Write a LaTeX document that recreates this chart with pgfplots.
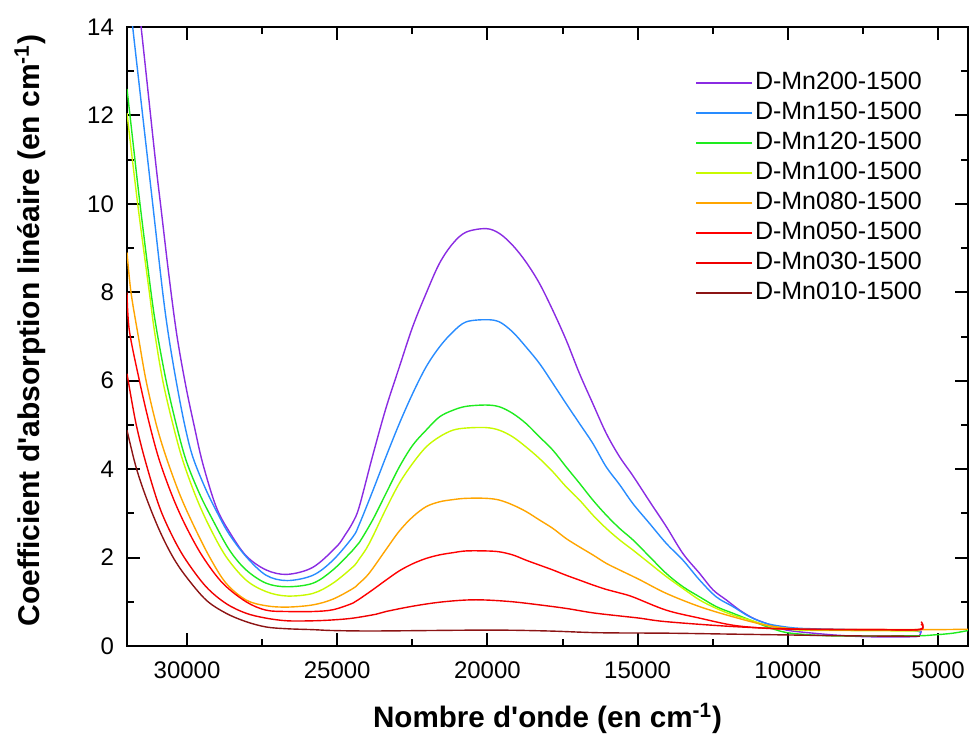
\documentclass[border=0pt]{standalone}
\usepackage{fontspec}
\setmainfont{Liberation Sans}
\newfontfamily\lsans{Liberation Sans}
\usepackage{pgfplots}
\pgfplotsset{compat=1.18}
\definecolor{c200}{RGB}{138,43,226}
\definecolor{c150}{RGB}{40,140,255}
\definecolor{c120}{RGB}{30,235,30}
\definecolor{c100}{RGB}{200,250,0}
\definecolor{c080}{RGB}{255,165,0}
\definecolor{c050}{RGB}{255,0,0}
\definecolor{c030}{RGB}{240,0,0}
\definecolor{c010}{RGB}{140,20,20}
\begin{document}
\begin{tikzpicture}
\begin{axis}[
  scale only axis,
  width=420.5pt, height=309.5pt,
  x dir=reverse,
  xmin=4000, xmax=32000, ymin=0, ymax=14,
  xtick={5000,10000,...,30000},
  ytick={0,2,...,14},
  minor x tick num=1, minor y tick num=1,
  scaled x ticks=false,
  /pgf/number format/1000 sep={},
  /pgf/number format/assume math mode=true,
  tick align=inside,
  major tick length=6.5pt, minor tick length=3.5pt,
  every tick/.style={line width=1pt, black},
  axis line style={line width=1.2pt},
  tick label style={font=\lsans\fontsize{12}{14}\selectfont},
  xticklabel style={yshift=-4.3pt},
  yticklabel style={xshift=-3pt},
  xlabel={Nombre d'onde (en cm\textsuperscript{-1})},
  ylabel={Coefficient d'absorption linéaire (en cm\textsuperscript{-1})},
  xlabel style={font=\lsans\bfseries\fontsize{14.8}{17}\selectfont, at={(axis description cs:0.5,-0.117)}, anchor=center},
  ylabel style={font=\lsans\bfseries\fontsize{15}{17}\selectfont, at={(axis description cs:-0.1153,0.51)}, anchor=center},
  legend style={draw=none, fill=none, at={(axis description cs:0.6754,0.933)}, anchor=north west,
    font=\lsans\fontsize{12.5}{15}\selectfont, inner sep=0pt, row sep=1pt,
    nodes={inner sep=1pt, text height=9.5pt, text depth=2.5pt}},
  legend image code/.code={\draw[#1, line width=0.8pt] (0pt,0pt) -- (28pt,0pt);},
  legend cell align=left,
  clip=true,
  every axis plot/.append style={line width=0.7pt, smooth, tension=0.55},
]
\addplot[c200] coordinates {
(32000,17.2) (31800,15.6) (31530,14) (31056,11.0) (30867,9.9) (30589,8.3) (30333,7.0) (30033,5.85)
(29756,4.96) (29478,4.13) (29033,3.15) (28589,2.58) (28033,2.04) (27367,1.72) (26667,1.62)
(25811,1.78) (25033,2.24) (24750,2.50) (24478,2.80) (24267,3.15) (23822,4.30) (23378,5.38) (22933,6.31)
(22489,7.22) (22044,7.97) (21600,8.65) (21156,9.10) (20711,9.36) (20044,9.44) (19600,9.33)
(19156,9.06) (18711,8.68) (18267,8.20) (17822,7.59) (17378,6.92) (16933,6.16) (16489,5.48)
(16044,4.81) (15600,4.28) (15156,3.85) (14600,3.27) (14044,2.70) (13489,2.09) (12933,1.64)
(12489,1.27) (12044,1.04) (11600,0.81) (11156,0.63) (10711,0.51) (10044,0.36) (9000,0.28)
(8489,0.25) (7378,0.21) (5822,0.21) (5600,0.25) (5560,0.35)
};
\addlegendentry{D-Mn200-1500}
\addplot[c150] coordinates {
(32000,15.2) (31810,14) (31478,12) (31144,10) (30811,8) (30611,7) (30367,6.01) (30089,5.03)
(29811,4.28) (29367,3.53) (28922,2.92) (28589,2.52) (28033,2.02) (27367,1.60) (26667,1.48)
(25811,1.60) (25144,1.94) (24478,2.47) (24267,2.75) (23822,3.50) (23378,4.28) (22933,5.03)
(22489,5.71) (22044,6.31) (21600,6.76) (21156,7.10) (20711,7.33) (20044,7.38) (19600,7.33)
(19156,7.10) (18711,6.76) (18267,6.39) (17822,5.94) (17378,5.48) (16933,5.03) (16489,4.58)
(16044,4.05) (15600,3.65) (15156,3.22) (14600,2.77) (14044,2.32) (13489,1.94) (12933,1.49)
(12378,1.11) (11822,0.89) (11267,0.66) (10711,0.51) (10156,0.44) (9600,0.40) (8489,0.38)
(7000,0.36) (5822,0.35) (5560,0.30)
};
\addlegendentry{D-Mn150-1500}
\addplot[c120] coordinates {
(32000,12.6) (31900,12) (31567,10) (31200,8) (31011,7.14) (30700,6.01) (30367,5.03) (30033,4.20)
(29589,3.45) (29144,2.85) (28589,2.17) (28033,1.72) (27367,1.42) (26667,1.34) (25811,1.42)
(25144,1.72) (24478,2.17) (24267,2.34) (23822,2.85) (23378,3.45) (22933,4.05) (22489,4.54)
(22044,4.88) (21600,5.18) (21156,5.33) (20711,5.42) (20044,5.45) (19600,5.41) (19156,5.26)
(18711,5.03) (18267,4.73) (17822,4.43) (17378,4.05) (16933,3.68) (16489,3.30) (16044,2.96)
(15600,2.66) (15156,2.40) (14600,2.02) (14044,1.64) (13489,1.34) (12933,1.11) (12378,0.89)
(11822,0.74) (11267,0.59) (10711,0.44) (10156,0.32) (9600,0.27) (8489,0.23) (5822,0.23)
(5156,0.25) (4500,0.29) (4000,0.35)
};
\addlegendentry{D-Mn120-1500}
\addplot[c100] coordinates {
(32000,12.05) (31644,10) (31256,8) (31089,7.14) (30811,6.01) (30478,5.03) (30144,4.20) (29700,3.37)
(29256,2.70) (28700,2.02) (28033,1.49) (27367,1.23) (26667,1.13) (25811,1.19) (25144,1.42)
(24478,1.79) (24267,1.97) (24033,2.20) (23822,2.47) (23378,3.10) (22933,3.68) (22489,4.13)
(22044,4.50) (21600,4.73) (21156,4.88) (20711,4.93) (20044,4.94) (19600,4.88) (19156,4.73)
(18711,4.50) (18267,4.24) (17822,3.94) (17378,3.60) (16933,3.30) (16489,2.96) (16044,2.66)
(15600,2.40) (15156,2.17) (14600,1.87) (14044,1.57) (13489,1.30) (12933,1.04) (12378,0.85)
(11822,0.70) (11267,0.59) (10711,0.47) (10156,0.40) (9600,0.36) (8000,0.35) (5600,0.34)
};
\addlegendentry{D-Mn100-1500}
\addplot[c080] coordinates {
(32000,8.9) (31867,8) (31622,7) (31367,6.01) (31033,5.03) (30700,4.28) (30256,3.45) (29811,2.77)
(29256,2.02) (28700,1.42) (28033,1.04) (27367,0.91) (26667,0.88) (25811,0.93) (25144,1.06)
(24478,1.30) (24267,1.42) (24033,1.57) (23822,1.75) (23378,2.18) (22933,2.60) (22489,2.92)
(22044,3.15) (21600,3.26) (21156,3.31) (20711,3.34) (20044,3.34) (19600,3.30) (19156,3.19)
(18711,3.04) (18267,2.85) (17822,2.66) (17378,2.43) (16933,2.24) (16489,2.06) (16044,1.87)
(15600,1.72) (14933,1.50) (14044,1.19) (12933,0.89) (11822,0.66) (10711,0.47) (9600,0.38)
(8000,0.37) (6000,0.37) (5000,0.37) (4000,0.38)
};
\addlegendentry{D-Mn080-1500}
\addplot[c050] coordinates {
(32000,8.0) (31922,7.14) (31589,6.01) (31256,5.03) (30922,4.20) (30478,3.37) (30033,2.70)
(29478,2.02) (28811,1.42) (28033,1.00) (27367,0.81) (26667,0.78) (25811,0.78) (25144,0.82)
(24478,0.97) (24267,1.06) (23822,1.27) (23378,1.49) (22933,1.70) (22489,1.86) (22044,1.98)
(21600,2.06) (21156,2.11) (20711,2.15) (20044,2.15) (19600,2.13) (19156,2.06) (18711,1.94)
(18267,1.83) (17822,1.72) (17378,1.60) (16933,1.49) (16489,1.38) (16044,1.28) (15600,1.20)
(15156,1.11) (14044,0.81) (12933,0.63) (11822,0.47) (10711,0.40) (9600,0.38) (7000,0.37)
(5600,0.37) (5560,0.50)
};
\addlegendentry{D-Mn050-1500}
\addplot[c030] coordinates {
(32000,6.16) (31700,5.03) (31367,4.13) (30922,3.15) (30478,2.47) (30033,1.94) (29367,1.34)
(28700,0.96) (28033,0.74) (27367,0.63) (26667,0.57) (25811,0.57) (25144,0.59) (24478,0.63)
(23700,0.72) (23378,0.78) (22489,0.90) (21600,0.99) (20711,1.04) (20044,1.04) (19156,1.00)
(18267,0.93) (17378,0.85) (16489,0.75) (15600,0.68) (14933,0.63) (14044,0.55) (11822,0.44)
(9600,0.38) (7000,0.37) (5600,0.38) (5560,0.55)
};
\addlegendentry{D-Mn030-1500}
\addplot[c010] coordinates {
(32000,4.88) (31700,4.05) (31367,3.37) (30922,2.62) (30478,2.02) (30033,1.57) (29367,1.04)
(28700,0.74) (28033,0.55) (27367,0.43) (26667,0.39) (25811,0.37) (25144,0.35) (23700,0.34)
(20000,0.36) (18000,0.34) (16267,0.30) (14000,0.29) (12000,0.27) (10000,0.25) (8000,0.23)
(5600,0.22)
};
\addlegendentry{D-Mn010-1500}
\end{axis}
\pgfresetboundingbox
\path[use as bounding box] (-63.5pt,-47pt) rectangle (421pt,323pt);
\end{tikzpicture}
\end{document}
